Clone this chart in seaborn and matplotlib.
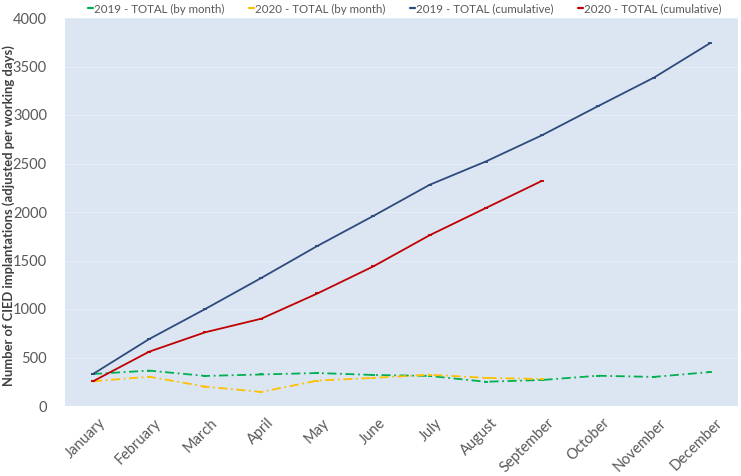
import matplotlib
matplotlib.use("Agg")
import matplotlib.pyplot as plt
import matplotlib.transforms as mtransforms
from matplotlib.lines import Line2D
import seaborn as sns
import pandas as pd

months = ["January", "February", "March", "April", "May", "June", "July",
          "August", "September", "October", "November", "December"]
total_2019_month = [330, 365, 310, 325, 340, 320, 310, 250, 268, 312, 300, 350]
total_2020_month = [255, 302, 200, 145, 262, 290, 322, 290, 278]
total_2019_cum = [330, 690, 1000, 1320, 1650, 1960, 2280, 2520, 2790, 3090, 3385, 3740]
total_2020_cum = [255, 560, 760, 900, 1160, 1440, 1760, 2040, 2320]
yticks = [0, 500, 1000, 1500, 2000, 2500, 3000, 3500, 4000]

labels = ["2019 - TOTAL (by month)", "2020 - TOTAL (by month)",
          "2019 - TOTAL (cumulative)", "2020 - TOTAL (cumulative)"]
series = [total_2019_month, total_2020_month, total_2019_cum, total_2020_cum]
colors = ["#00B050", "#FFC000", "#2E4A7D", "#C00000"]
styles = [(0, (5, 2, 1, 2)), (0, (5, 2, 1, 2)), "-", "-"]

sns.set_theme(style="white")
plt.rcParams["font.family"] = ["Lato", "DejaVu Sans"]

fig = plt.figure(figsize=(7.41, 4.76), dpi=100)
ax = fig.add_axes([65 / 741, 1 - 406 / 476, (738 - 65) / 741, (406 - 18) / 476])
ax.set_facecolor("#DCE6F2")

for lab, vals, col, ls in zip(labels, series, colors, styles):
    n_before = len(ax.lines)
    df = pd.DataFrame({"month": months[:len(vals)], "value": vals})
    sns.lineplot(data=df, x="month", y="value", ax=ax, color=col, linewidth=1.3,
                 marker="_", markersize=3.5, markeredgewidth=1.3,
                 markeredgecolor=col, sort=False, legend=False)
    for ln in ax.lines[n_before:]:
        ln.set_linestyle(ls)

ax.set_xlim(-0.5, len(months) - 0.5)
ax.set_ylim(0, 4000)
ax.set_yticks(yticks)
ax.set_yticklabels([str(v) for v in yticks])
ax.yaxis.grid(True, color="#E4ECF6", linewidth=0.8)
ax.set_axisbelow(True)
for s in ax.spines.values():
    s.set_visible(False)

ax.tick_params(axis="y", colors="#595959", labelsize=10.5, length=0, pad=13)
ax.tick_params(axis="x", colors="#595959", labelsize=10.5, length=0, pad=7)
offset = mtransforms.ScaledTranslation(5 / 100, 0, fig.dpi_scale_trans)
for t in ax.get_xticklabels():
    t.set_rotation(45)
    t.set_ha("right")
    t.set_rotation_mode("anchor")
    t.set_transform(t.get_transform() + offset)
ax.set_xlabel("")
ax.set_ylabel("Number of CIED implantations (adjusted per working days)",
              fontsize=9.4, fontweight="bold", color="#404040")
ax.yaxis.set_label_coords(-0.074, 0.49)

handles = [Line2D([], [], color=c, linewidth=1.6, linestyle="-") for c in colors]
ax.legend(handles, labels, loc="center", bbox_to_anchor=(405 / 741, 1 - 9 / 476),
          bbox_transform=fig.transFigure, ncol=4, frameon=False, fontsize=8.3,
          handlelength=0.4, handletextpad=0.15, columnspacing=2.1,
          labelcolor="#595959")

fig.savefig("out.png", dpi=100, facecolor="white")
